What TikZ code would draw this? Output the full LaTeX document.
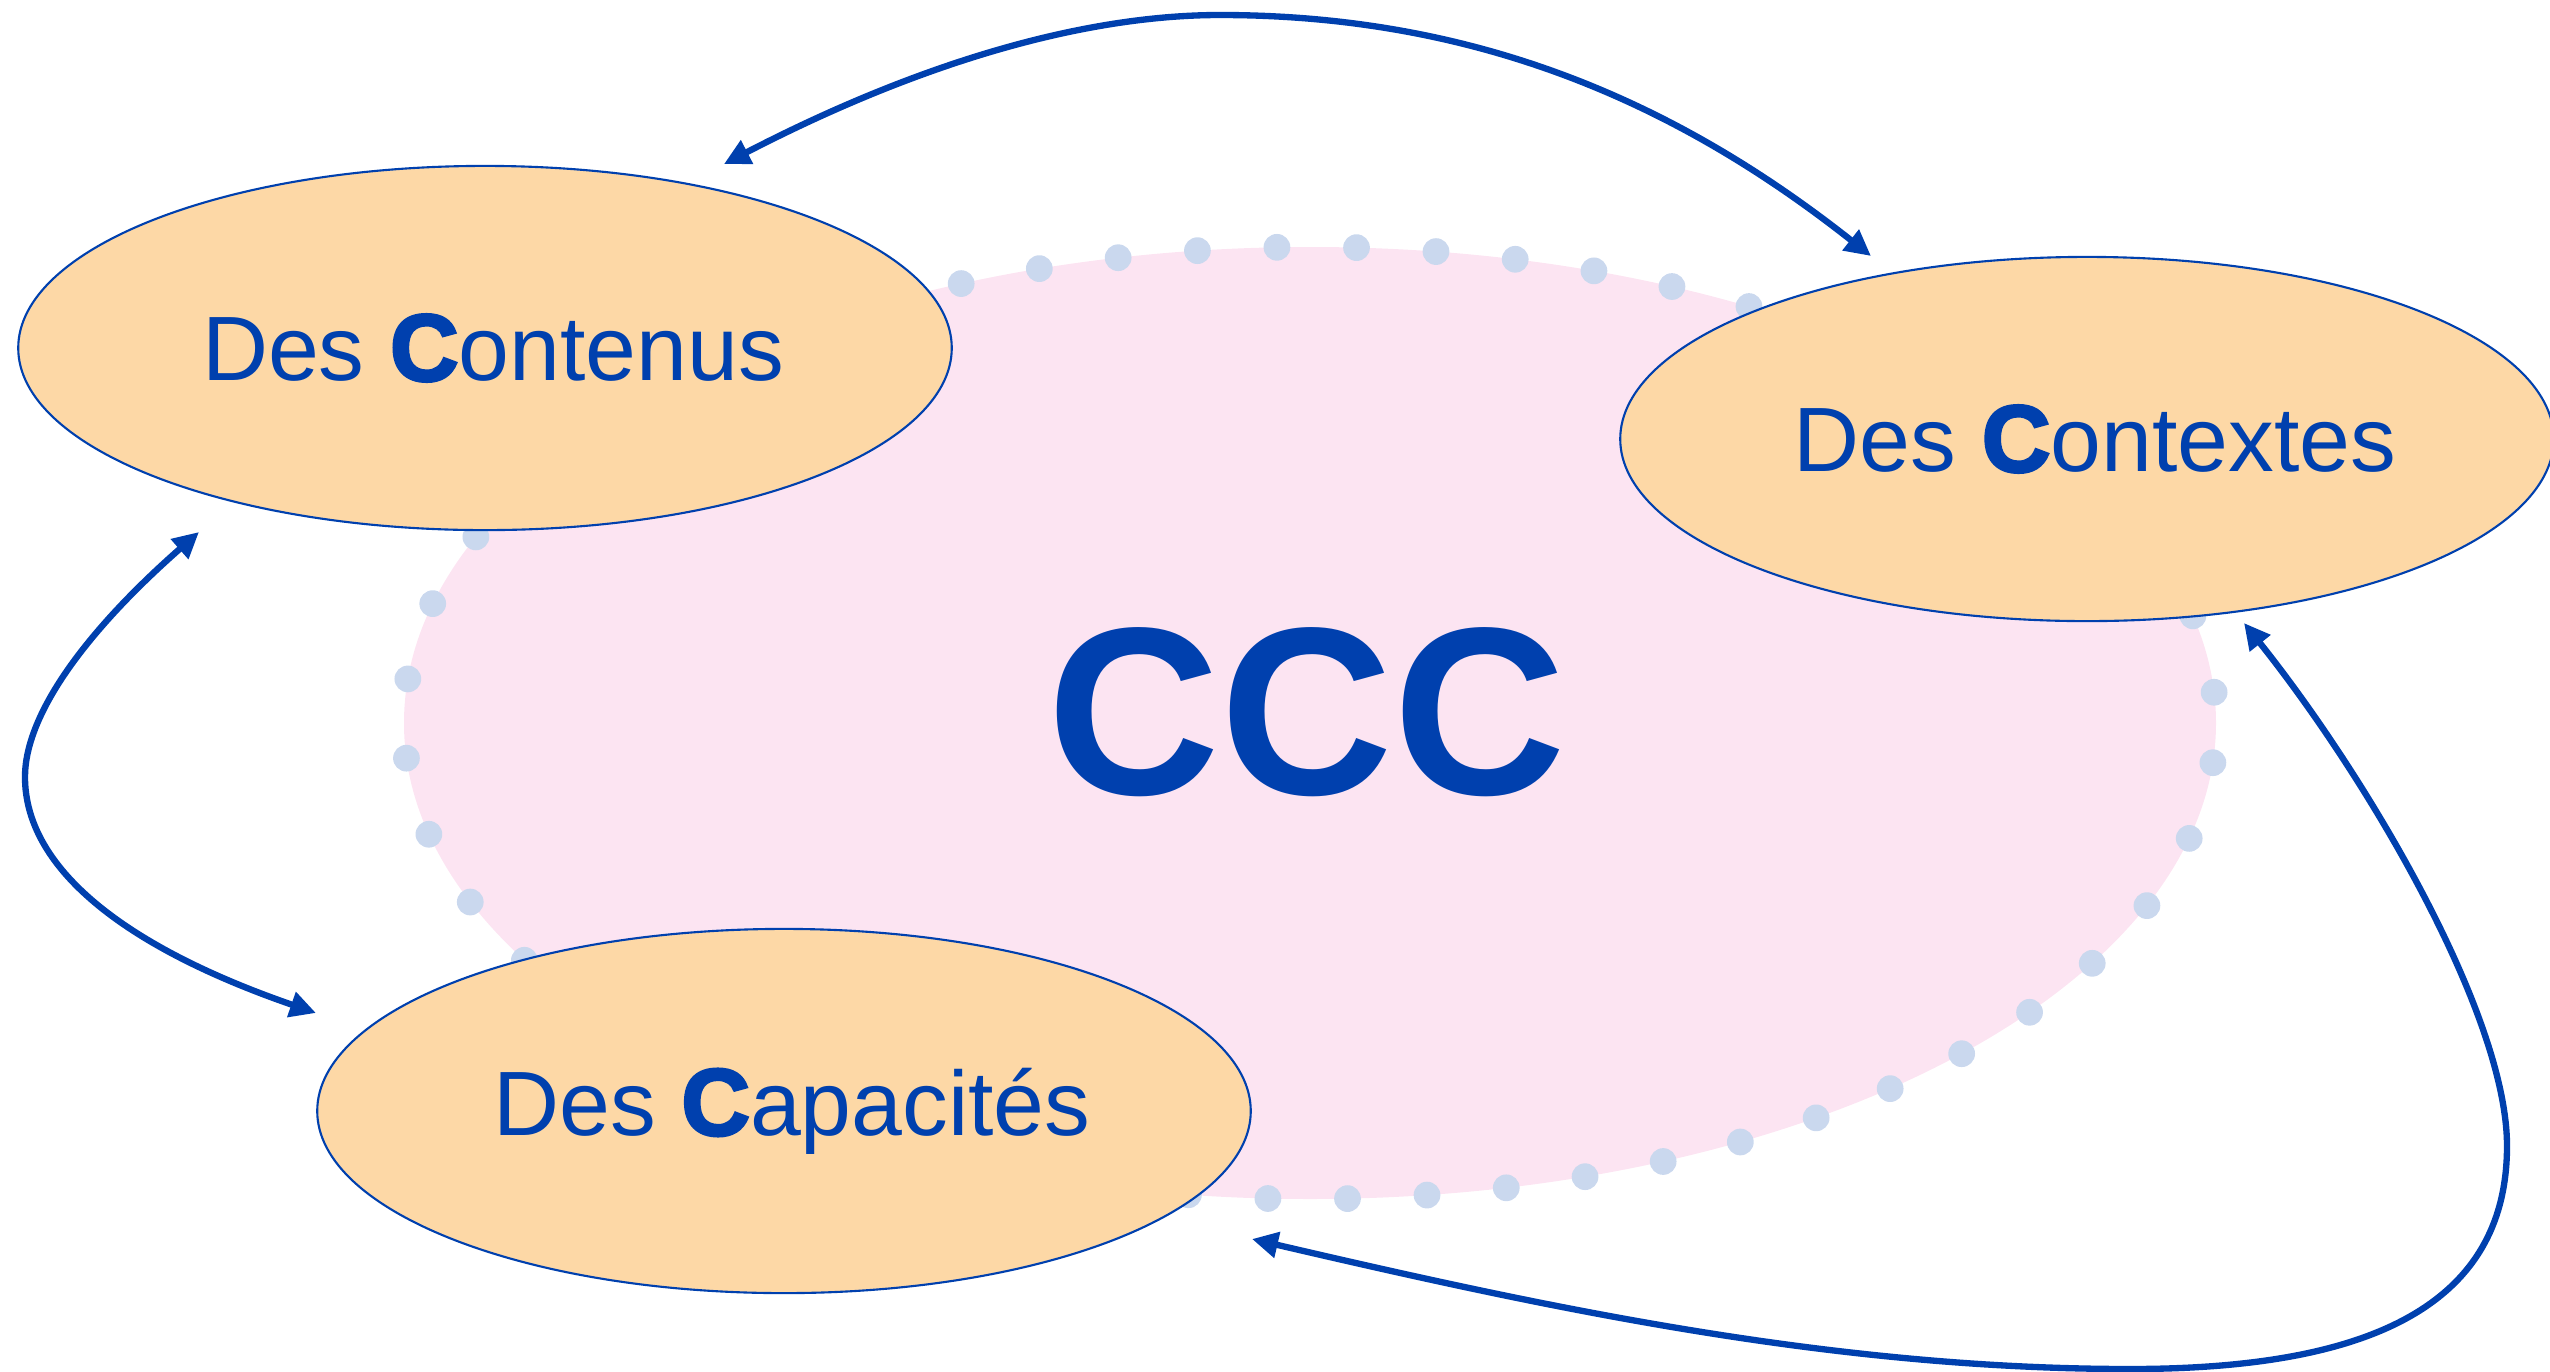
\documentclass[tikz,border=0pt]{standalone}
\usepackage{fontspec}
\setmainfont{Liberation Sans}
\newfontfamily\heavyC[FakeBold=3]{Liberation Sans Bold}
\usetikzlibrary{shapes.geometric,arrows.meta}
\definecolor{ink}{HTML}{0040AE}
\definecolor{peach}{HTML}{FDD8A6}
\definecolor{blush}{HTML}{FCE4F2}
\definecolor{dotblue}{HTML}{CAD8EE}
% heavy initial capital of each label
\newcommand{\bigC}[1]{{\heavyC\fontsize{27}{30}\selectfont #1}}
\begin{document}
\begin{tikzpicture}[x=0.01cm,y=-0.01cm,
  cbox/.style={ellipse, draw=ink, line width=0.6pt, fill=peach,
    minimum width=9.33cm, minimum height=3.64cm, inner sep=0pt,
    text=ink, font=\fontsize{26}{30}\selectfont},
  link/.style={draw=ink, line width=1.8pt,
    {Triangle[length=7.4pt,width=7.2pt]}-{Triangle[length=7.4pt,width=7.2pt]}},
  dotring/.style={draw=dotblue, line width=7.6pt, line cap=round,
    dash pattern=on 0pt off 22.632pt, dash phase=11.3pt}]
\useasboundingbox (0,0) rectangle (2550,1372);

% central pink zone with its dotted rim
\fill[blush] (1310,723) ellipse [x radius=906, y radius=476];
\draw[dotring] (1310,723) ellipse [x radius=906, y radius=476];
\node[text=ink, font=\bfseries\fontsize{68}{72}\selectfont] (ccc) at (1307,712) {CCC};

% the three C's
\node[cbox] (cont) at (485,348) {\hspace*{0.16cm}Des \bigC{C}ontenus};
\node[cbox] (ctx) at (2087,439) {\hspace*{0.16cm}Des \bigC{C}ontextes};
\node[cbox] (cap) at (784,1111) {\hspace*{0.16cm}Des \bigC{C}apacités};

% free ends of the links
\coordinate (a1) at (724,164);
\coordinate (a2) at (1871,256);
\coordinate (b1) at (199,532);
\coordinate (b2) at (316,1013);
\coordinate (c1) at (2244,623);
\coordinate (c2) at (1252,1239);

\draw[link] (a1) .. controls (915,65) and (1080,15) .. (1220,15)
  .. controls (1480,15) and (1680,105) .. (a2);
\draw[link] (b1) .. controls (83,634) and (25,716) .. (25,777)
  .. controls (25,867) and (122,946) .. (b2);
\draw[link] (c1) .. controls (2370,781) and (2507,1016) .. (2507,1146)
  .. controls (2507,1316) and (2350,1369) .. (2130,1369)
  .. controls (1830,1369) and (1544,1307) .. (c2);
\end{tikzpicture}
\end{document}
